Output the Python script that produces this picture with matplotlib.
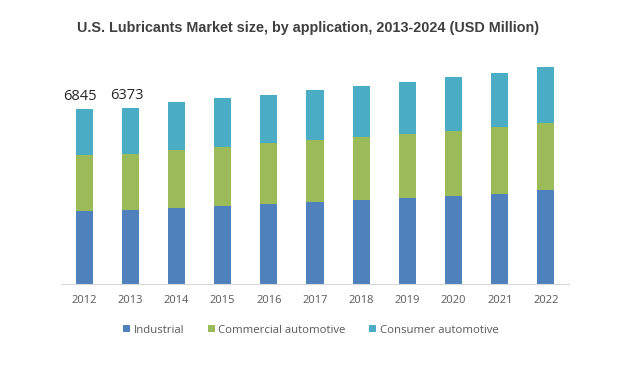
import matplotlib.pyplot as plt
import numpy as np

years = ["2012", "2013", "2014", "2015", "2016", "2017", "2018", "2019", "2020", "2021", "2022"]
industrial = [2855, 2895, 2970, 3050, 3130, 3205, 3285, 3365, 3440, 3520, 3675]
commercial = [2190, 2190, 2270, 2305, 2385, 2425, 2465, 2500, 2540, 2620, 2620]
consumer = [1800, 1800, 1875, 1915, 1875, 1955, 1995, 2035, 2110, 2110, 2190]
labels = ["6845", "6373"]

plt.rcParams['font.family'] = ['Open Sans', 'DejaVu Sans']

fig = plt.figure(figsize=(6.23, 3.66), dpi=100)
ax = fig.add_axes([61/623, 82/366, 508/623, 224/366])

x = np.arange(len(years))
ind = np.array(industrial)
com = np.array(commercial)
con = np.array(consumer)
w = 0.37
ax.bar(x, ind, w, color="#4F81BD", label="Industrial")
ax.bar(x, com, w, bottom=ind, color="#9BBB59", label="Commercial automotive")
ax.bar(x, con, w, bottom=ind + com, color="#4BACC6", label="Consumer automotive")

tot = ind + com + con
for i, t in enumerate(labels):
    ax.text(x[i] - 0.08, tot[i] + 200, t, ha="center", va="bottom", fontsize=10.5, color="#262626")

ax.set_xlim(-0.5, len(years) - 0.5)
ax.set_ylim(0, 224 * 39.1)
ax.set_xticks(x)
ax.set_xticklabels(years, fontsize=8, color="#595959")
ax.set_yticks([])
ax.tick_params(axis="x", length=0, pad=8)
for s in ["top", "right", "left"]:
    ax.spines[s].set_visible(False)
ax.spines["bottom"].set_color("#D9D9D9")

fig.text(0.494, 0.924, "U.S. Lubricants Market size, by application, 2013-2024 (USD Million)",
         ha="center", va="center", fontsize=10.4, fontweight="bold", color="#404040",
         family="Liberation Sans")

fig.legend(loc="center", bbox_to_anchor=(0.499, 0.098), ncol=3, frameon=False,
           fontsize=8.2, labelcolor="#595959", handlelength=0.6, handleheight=0.6,
           handletextpad=0.3, columnspacing=2.1)

plt.savefig("out.png", dpi=100)
